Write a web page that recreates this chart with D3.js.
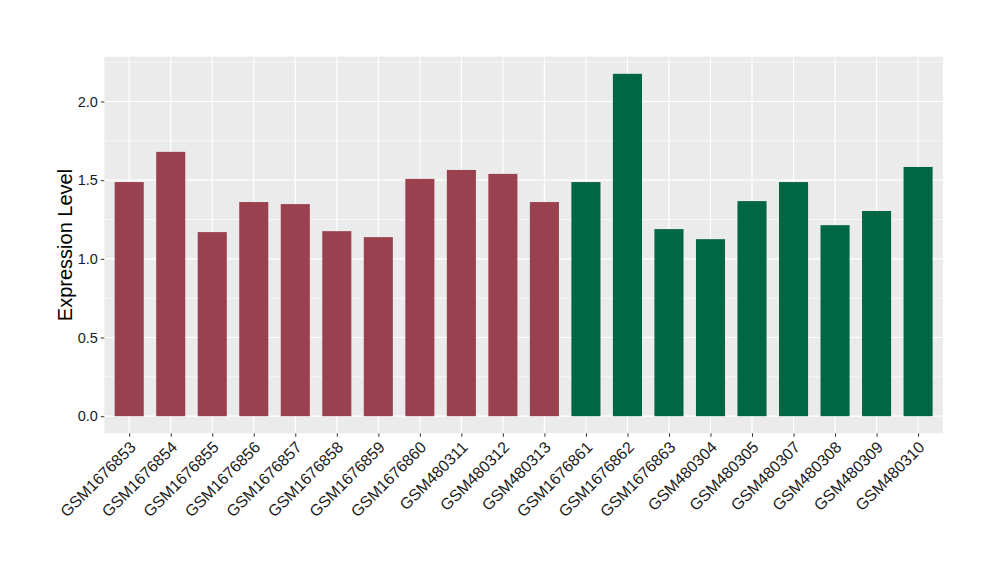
<!DOCTYPE html>
<html><head><meta charset="utf-8">
<script src="https://cdn.jsdelivr.net/npm/d3@7"></script>
<style>body{margin:0;background:#fff}svg{display:block}</style>
</head><body>
<svg id="c" width="1000" height="580"></svg>
<script>
const categories = ["GSM1676853","GSM1676854","GSM1676855","GSM1676856","GSM1676857","GSM1676858","GSM1676859","GSM1676860","GSM480311","GSM480312","GSM480313","GSM1676861","GSM1676862","GSM1676863","GSM480304","GSM480305","GSM480307","GSM480308","GSM480309","GSM480310"];
const values = [1.488,1.680,1.170,1.361,1.348,1.176,1.138,1.508,1.565,1.540,1.361,1.488,2.176,1.189,1.125,1.367,1.488,1.214,1.304,1.584];
const groups = ["A","A","A","A","A","A","A","A","A","A","A","B","B","B","B","B","B","B","B","B"];
const yTicks = [0.0,0.5,1.0,1.5,2.0];
const yMinor = [0.25,0.75,1.25,1.75,2.25];
const groupColors = {A:"#9A4150", B:"#006644"};

const svg = d3.select("#c");
const L = 104.3, R = 943, T = 56.7, B = 433.3;
const maxV = d3.max(values);
const y = d3.scaleLinear().domain([-maxV*0.05, maxV*1.05]).range([B, T]);
const n = categories.length;
const step = (R - L) / (n - 1 + 1.2);
const x = d3.scalePoint().domain(categories).range([L + 0.6*step, R - 0.6*step]);
const bw = step * 0.7;
const FONT = "'Liberation Sans', Arial, Helvetica, sans-serif";

svg.append("rect").attr("x", L).attr("y", T).attr("width", R-L).attr("height", B-T).attr("fill", "#EBEBEB");
const g = svg.append("g");
g.selectAll(".minor").data(yMinor.filter(d => y(d) >= T)).join("line")
  .attr("x1", L).attr("x2", R).attr("y1", d => y(d)).attr("y2", d => y(d))
  .attr("stroke", "#fff").attr("stroke-width", 0.6);
g.selectAll(".major").data(yTicks).join("line")
  .attr("x1", L).attr("x2", R).attr("y1", d => y(d)).attr("y2", d => y(d))
  .attr("stroke", "#fff").attr("stroke-width", 1.2);
g.selectAll(".vmajor").data(categories).join("line")
  .attr("y1", T).attr("y2", B).attr("x1", d => x(d)).attr("x2", d => x(d))
  .attr("stroke", "#fff").attr("stroke-width", 1.2);

svg.selectAll(".bar").data(categories).join("rect")
  .attr("x", d => x(d) - bw/2)
  .attr("width", bw)
  .attr("y", (d,i) => y(values[i]))
  .attr("height", (d,i) => y(0) - y(values[i]))
  .attr("fill", (d,i) => groupColors[groups[i]]);

// y axis
const yAxis = d3.axisLeft(y).tickValues(yTicks).tickFormat(d3.format(".1f")).tickSize(3.5).tickPadding(3);
const ya = svg.append("g").attr("transform", `translate(${L},0)`).call(yAxis);
ya.attr("font-size", null).attr("font-family", null);
ya.select(".domain").remove();
ya.selectAll("line").attr("stroke", "#333").attr("stroke-width", 1);
ya.selectAll("text").attr("fill", "#1a1a1a").style("font-family", FONT).style("font-size", "14.5px");

// x axis
const xAxis = d3.axisBottom(x).tickSize(3.5).tickPadding(3);
const xa = svg.append("g").attr("transform", `translate(0,${B})`).call(xAxis);
xa.attr("font-size", null).attr("font-family", null);
xa.select(".domain").remove();
xa.selectAll("line").attr("stroke", "#333").attr("stroke-width", 1);
xa.selectAll("text")
  .attr("fill", "#1a1a1a")
  .style("font-family", FONT).style("font-size", "16px")
  .attr("text-anchor", "end")
  .attr("dy", null)
  .attr("y", 0)
  .attr("transform", "translate(7,15) rotate(-45)");

svg.append("text")
  .attr("transform", `translate(72,${(T+B)/2}) rotate(-90)`)
  .attr("text-anchor", "middle")
  .style("font-family", FONT).style("font-size", "20px")
  .attr("fill", "#000")
  .text("Expression Level");
</script>
</body></html>
